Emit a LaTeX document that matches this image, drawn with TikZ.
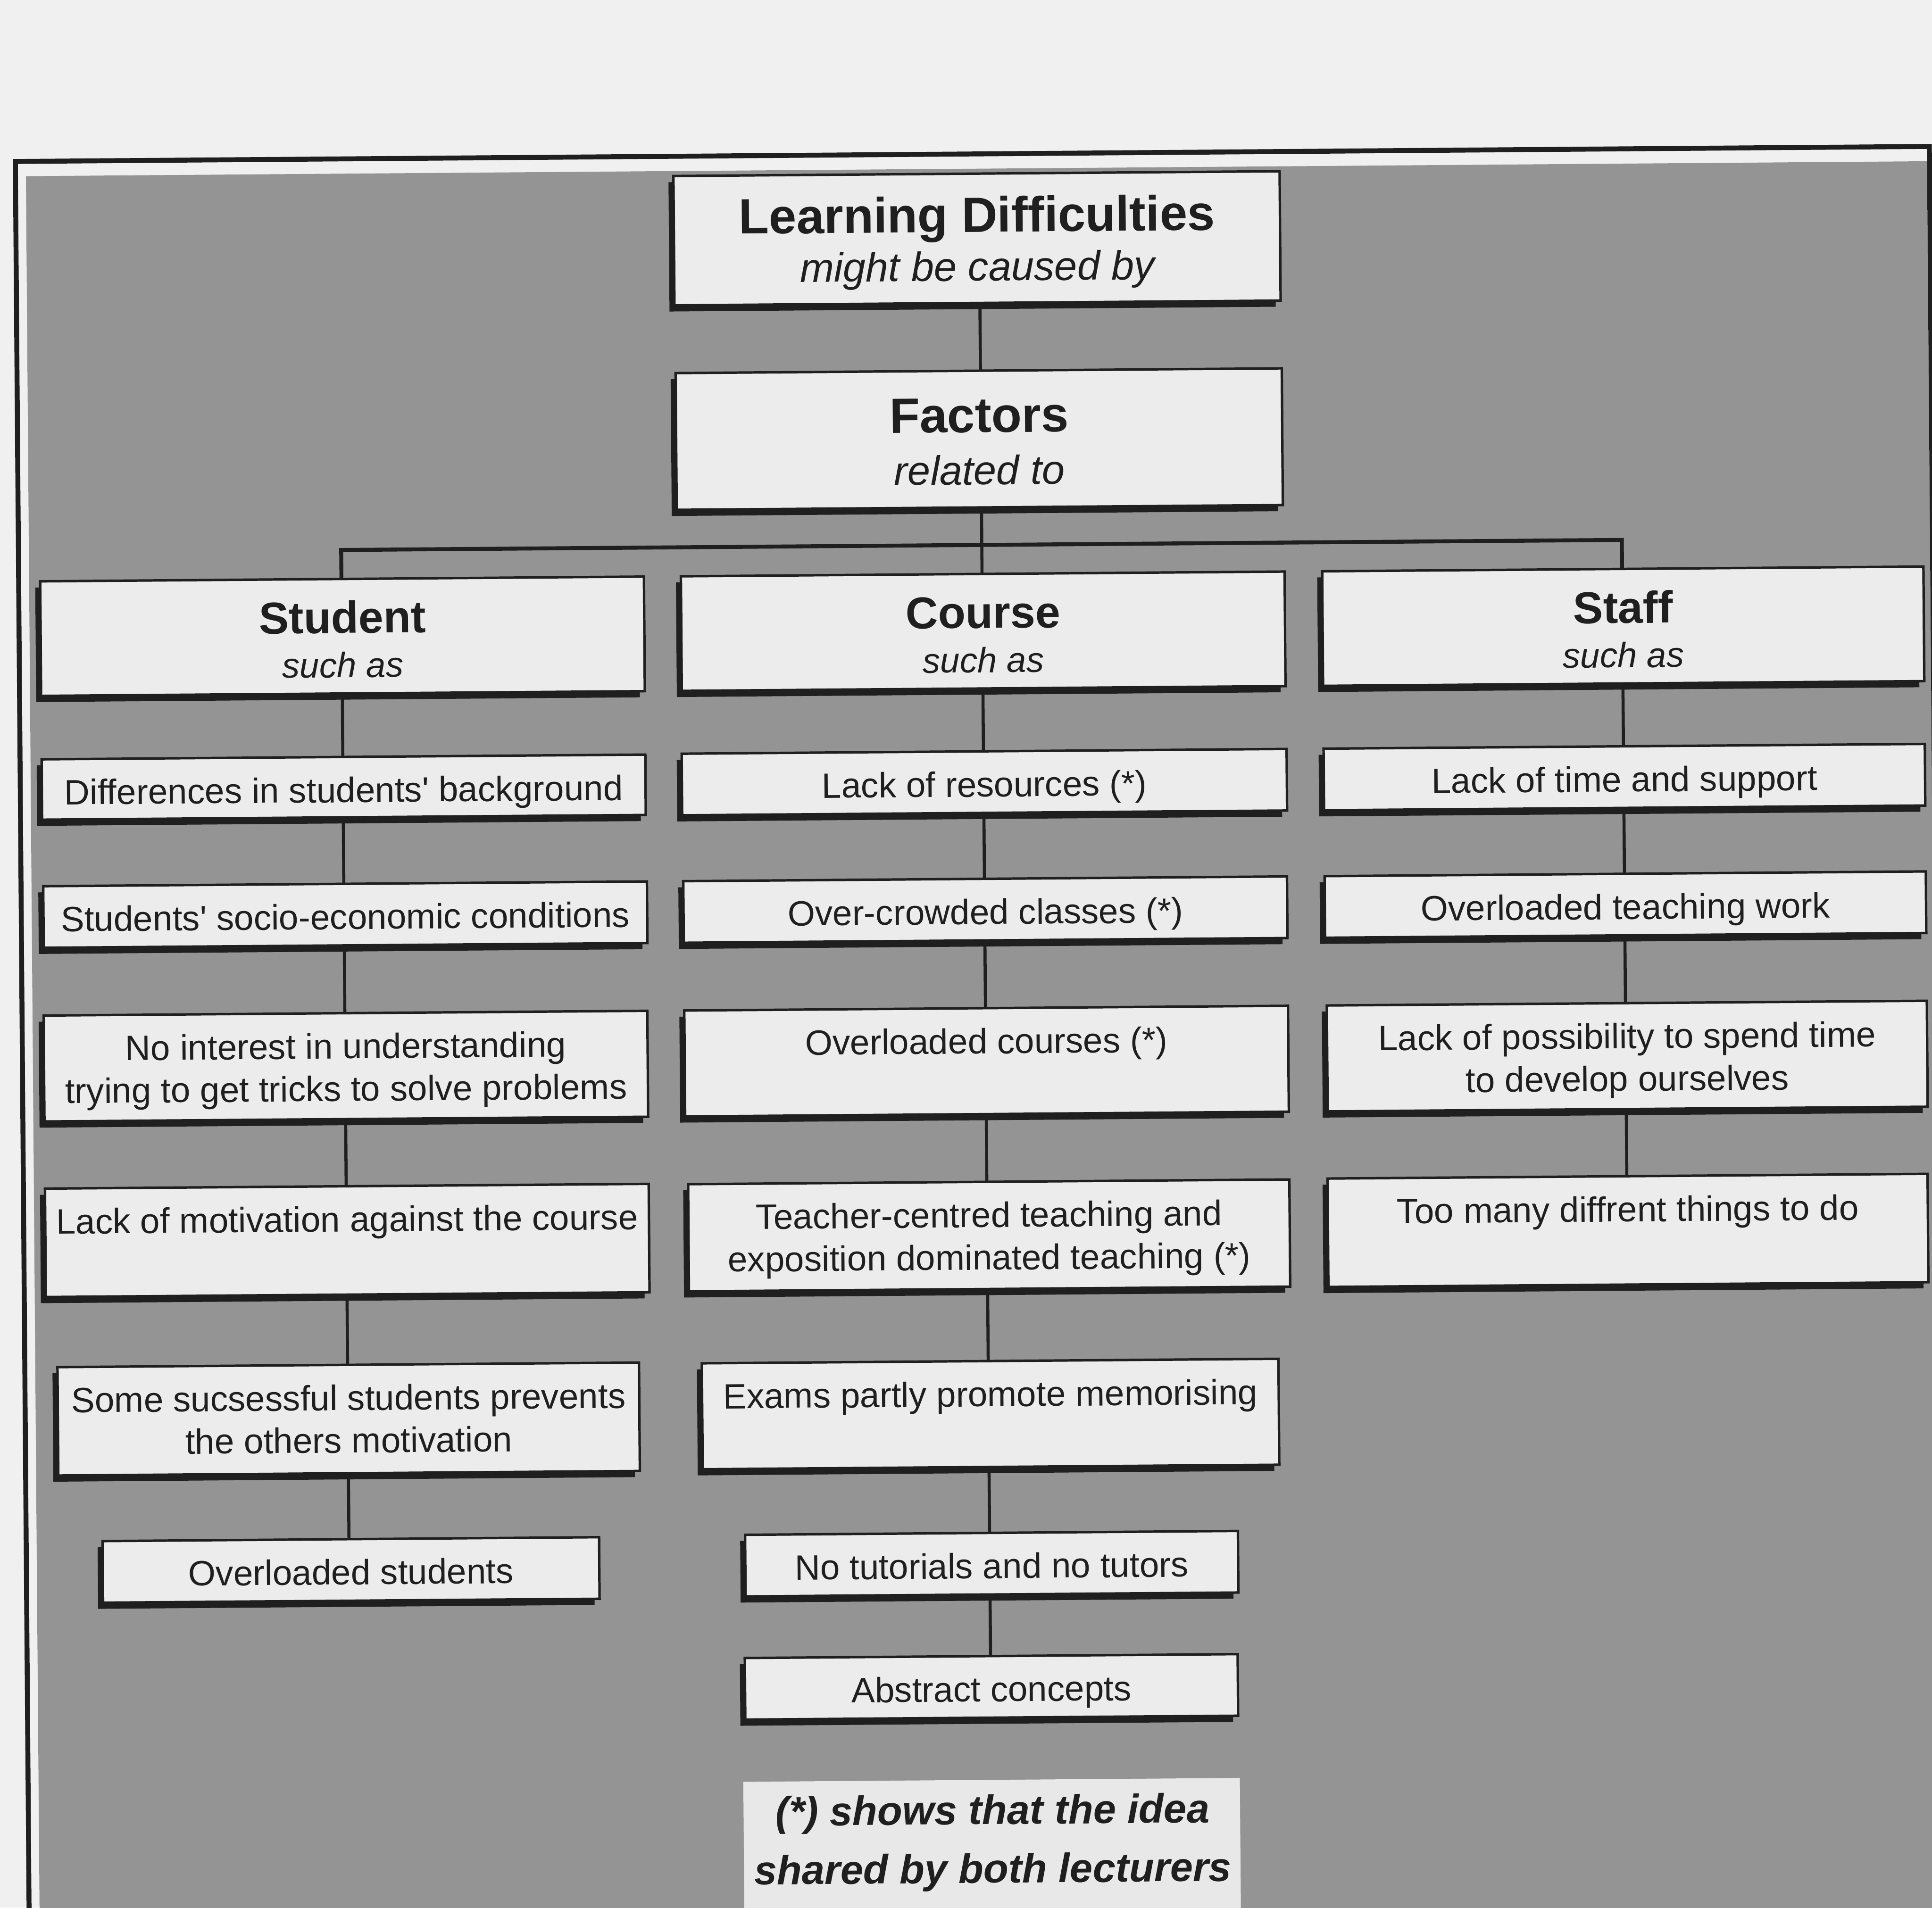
\documentclass[tikz,border=0pt]{standalone}
\usepackage{fontspec}
\setmainfont{Liberation Sans}
\usetikzlibrary{shadows}
\definecolor{pagebg}{gray}{0.94}
\definecolor{greybg}{gray}{0.58}
\definecolor{boxfill}{gray}{0.925}
\definecolor{legfill}{gray}{0.91}
\definecolor{ink}{gray}{0.12}
\tikzset{
  box/.style={draw=ink, line width=1pt, fill=boxfill, inner sep=0pt, outer sep=0pt,
    drop shadow={shadow xshift=-2pt, shadow yshift=-2.5pt, fill=ink, opacity=1}},
  itemtxt/.style={anchor=north, inner sep=0pt, align=center, text=ink,
    font=\fontsize{14.3}{17.25}\selectfont},
  titletxt/.style={anchor=base, inner sep=0pt, text=ink, font=\bfseries\fontsize{20.1}{24}\selectfont},
  titlesub/.style={anchor=base, inner sep=0pt, text=ink, font=\itshape\fontsize{16.6}{20}\selectfont},
  headtxt/.style={anchor=base, inner sep=0pt, text=ink, font=\bfseries\fontsize{18.2}{22}\selectfont},
  subtxt/.style={anchor=base, inner sep=0pt, text=ink, font=\itshape\fontsize{14.3}{17}\selectfont},
  legtxt/.style={anchor=base, inner sep=0pt, text=ink, font=\bfseries\itshape\fontsize{16.6}{20}\selectfont},
  conn/.style={draw=ink, line width=1.25pt},
  bar/.style={draw=ink, line width=1.6pt},
  framestyle/.style={draw=ink, line width=2pt},
}
\newcommand{\LDshape}[5]{%
  \pgfmathsetmacro{\LDcx}{#2+2}%
  \pgfmathsetmacro{\LDcy}{#3-2.5}%
  \pgfmathsetmacro{\LDw}{(#4-4)*0.5}%
  \pgfmathsetmacro{\LDh}{(#5-5)*0.5}%
  \node[box, minimum width=\LDw pt, minimum height=\LDh pt] (#1) at (\LDcx,\LDcy) {};%
}
\newcommand{\LDbox}[6]{%
  \LDshape{#1}{#2}{#3}{#4}{#5}%
  \pgfmathsetmacro{\LDtop}{#3-#5/2+14.5}%
  \node[itemtxt] (#1-t) at (\LDcx,\LDtop) {\rule{0pt}{11pt}#6};%
}
\begin{document}
\begin{tikzpicture}[x=0.5pt,y=-0.5pt]
\useasboundingbox (0,0) rectangle (1568,1548.6);
\clip (0,0) rectangle (1568,1548.6);
\fill[pagebg] (0,0) rectangle (1568,1548.6);
\begin{scope}[rotate around={0.45:(784,775)}, transform shape]
  % frame and grey ground
  \fill[greybg] (26,137) rectangle (1569,1640);
  \draw[framestyle] (17.5,125) rectangle (1571,1640);

  % title boxes
  \LDshape{ld}{795.5}{196}{496}{110}
  \node[titletxt] (ld-t) at (797.5,188.4) {Learning Difficulties};
  \node[titlesub] (ld-s) at (797.5,228) {might be caused by};
  \LDshape{fac}{796}{359}{496}{116}
  \node[titletxt] (fac-t) at (798,351) {Factors};
  \node[titlesub] (fac-s) at (798,393.5) {related to};

  % headers
  \LDshape{sh}{278}{515}{494}{98}
  \node[headtxt] (sh-t) at (280,510) {Student};
  \node[subtxt] (sh-s) at (280,546) {such as};
  \LDshape{ch}{798}{515}{494}{98}
  \node[headtxt] (ch-t) at (800,510) {Course};
  \node[subtxt] (ch-s) at (800,546) {such as};
  \LDshape{sth}{1317.5}{515}{492}{98}
  \node[headtxt] (sth-t) at (1319.5,510) {Staff};
  \node[subtxt] (sth-s) at (1319.5,546) {such as};

  % student column
  \LDbox{s1}{278}{637.5}{494}{54}{Differences in students\textquotesingle\ background}
  \LDbox{s2}{278.5}{741}{494}{55}{Students\textquotesingle\ socio-economic conditions}
  \LDbox{s3}{278}{864}{494}{91}{No interest in understanding\\trying to get tricks to solve problems}
  \LDbox{s4}{278}{1005.5}{494}{93}{Lack of motivation against the course}
  \LDbox{s5}{278}{1150.5}{476}{93}{Some sucsessful students prevents\\the others motivation}
  \LDbox{s6}{279}{1273}{407}{55}{Overloaded students}

  % course column
  \LDbox{c1}{798}{637.5}{495}{55}{Lack of resources (*)}
  \LDbox{c2}{798}{741}{494}{55}{Over-crowded classes (*)}
  \LDbox{c3}{798}{864}{494}{91}{Overloaded courses (*)}
  \LDbox{c4}{799}{1005.5}{492}{92}{Teacher-centred teaching and\\exposition dominated teaching (*)}
  \LDbox{c5}{799}{1150.5}{472}{91}{Exams partly promote memorising}
  \LDbox{c6}{799}{1272}{404}{55}{No tutorials and no tutors}
  \LDbox{c7}{798}{1372}{404}{55}{Abstract concepts}

  % staff column
  \LDbox{st1}{1317.5}{637.5}{492}{55}{Lack of time and support}
  \LDbox{st2}{1317.5}{741}{492}{55}{Overloaded teaching work}
  \LDbox{st3}{1318}{864}{491}{91}{Lack of possibility to spend time\\to develop ourselves}
  \LDbox{st4}{1317.5}{1005.5}{491}{93}{Too many diffrent things to do}

  % legend
  \fill[legfill] (598,1445) rectangle (1001,1640);
  \node[legtxt] (leg1) at (800,1481) {(*) shows that the idea};
  \node[legtxt] (leg2) at (800,1528.6) {shared by both lecturers};

  % connectors
  \coordinate (bS) at (279.5,442.5);
  \coordinate (bC) at (799.5,442.5);
  \coordinate (bSt) at (1319,442.5);
  \draw[conn] (ld.south -| bC) -- (fac.north -| bC);
  \draw[conn] (fac.south -| bC) -- (bC);
  \draw[bar] (sh.north -| bS) |- (bSt) -- (sth.north -| bSt);
  \draw[conn] (bC) -- (ch.north -| bC);
  \foreach \a/\b in {sh/s1,s1/s2,s2/s3,s3/s4,s4/s5,s5/s6}
    \draw[conn] (\a.south -| bS) -- (\b.north -| bS);
  \foreach \a/\b in {ch/c1,c1/c2,c2/c3,c3/c4,c4/c5,c5/c6,c6/c7}
    \draw[conn] (\a.south -| bC) -- (\b.north -| bC);
  \foreach \a/\b in {sth/st1,st1/st2,st2/st3,st3/st4}
    \draw[conn] (\a.south -| bSt) -- (\b.north -| bSt);
\end{scope}
\end{tikzpicture}
\end{document}
